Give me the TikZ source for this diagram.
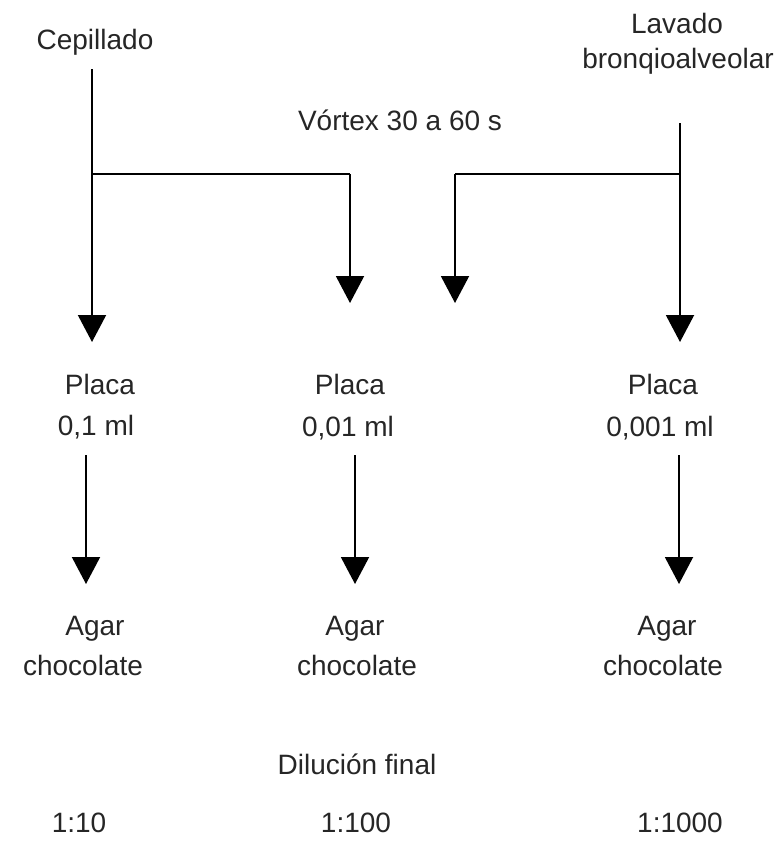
\documentclass[tikz,border=0pt]{standalone}
\usepackage{fontspec}
\setmainfont{Liberation Sans}
\usetikzlibrary{arrows.meta}

\begin{document}
\begin{tikzpicture}[x=1pt,y=-1pt,
    lbl/.style={anchor=base,inner sep=0pt,font=\fontsize{28}{30}\selectfont,text=black!85},
    flow/.style={line width=2pt,-{Triangle[width=28pt,length=27pt]}},
    feed/.style={line width=2.6pt}]
  \useasboundingbox (0,0) rectangle (783,846);

  % source samples and treatment
  \node[lbl] (cep) at (95,49) {Cepillado};
  \node[lbl] (lav1) at (677,33) {Lavado};
  \node[lbl] (lav2) at (678,68) {bronqioalveolar};
  \node[lbl] (vort) at (400,130) {Vórtex 30 a 60 s};

  % plated volumes
  \node[lbl] (p1) at (100,394) {Placa};
  \node[lbl] (v1) at (96,435) {0,1 ml};
  \node[lbl] (p2) at (350,394) {Placa};
  \node[lbl] (v2) at (348,436) {0,01 ml};
  \node[lbl] (p3) at (663,394) {Placa};
  \node[lbl] (v3) at (660,436) {0,001 ml};

  % culture media
  \node[lbl] (a1) at (95,635) {Agar};
  \node[lbl] (c1) at (83,675) {chocolate};
  \node[lbl] (a2) at (355,635) {Agar};
  \node[lbl] (c2) at (357,675) {chocolate};
  \node[lbl] (a3) at (667,635) {Agar};
  \node[lbl] (c3) at (663,675) {chocolate};

  % final dilutions
  \node[lbl] (dil) at (357,774) {Dilución final};
  \node[lbl] (r1) at (79,832) {1:10};
  \node[lbl] (r2) at (356,832) {1:100};
  \node[lbl] (r3) at (680,832) {1:1000};

  % connector end points
  \coordinate (cepOut) at (92,69);
  \coordinate (cepJoin) at (92,174);
  \coordinate (p1In) at (92,342);
  \coordinate (midL) at (350,174);
  \coordinate (p2InL) at (350,303);
  \coordinate (lavOut) at (680,123);
  \coordinate (lavJoin) at (680,174);
  \coordinate (p3In) at (680,342);
  \coordinate (midR) at (455,174);
  \coordinate (p2InR) at (455,303);

  \coordinate (v1Out) at (86,455);
  \coordinate (a1In) at (86,584);
  \coordinate (v2Out) at (355,455);
  \coordinate (a2In) at (355,584);
  \coordinate (v3Out) at (679,455);
  \coordinate (a3In) at (679,584);

  % brushing sample branch
  \draw[flow] (cepOut) -- (p1In);
  \draw[feed] (cepJoin) -- (midL);
  \draw[flow] (midL) -- (p2InL);

  % lavage sample branch
  \draw[flow] (lavOut) -- (p3In);
  \draw[feed] (lavJoin) -- (midR);
  \draw[flow] (midR) -- (p2InR);

  % plates to agar
  \draw[flow] (v1Out) -- (a1In);
  \draw[flow] (v2Out) -- (a2In);
  \draw[flow] (v3Out) -- (a3In);
\end{tikzpicture}
\end{document}
